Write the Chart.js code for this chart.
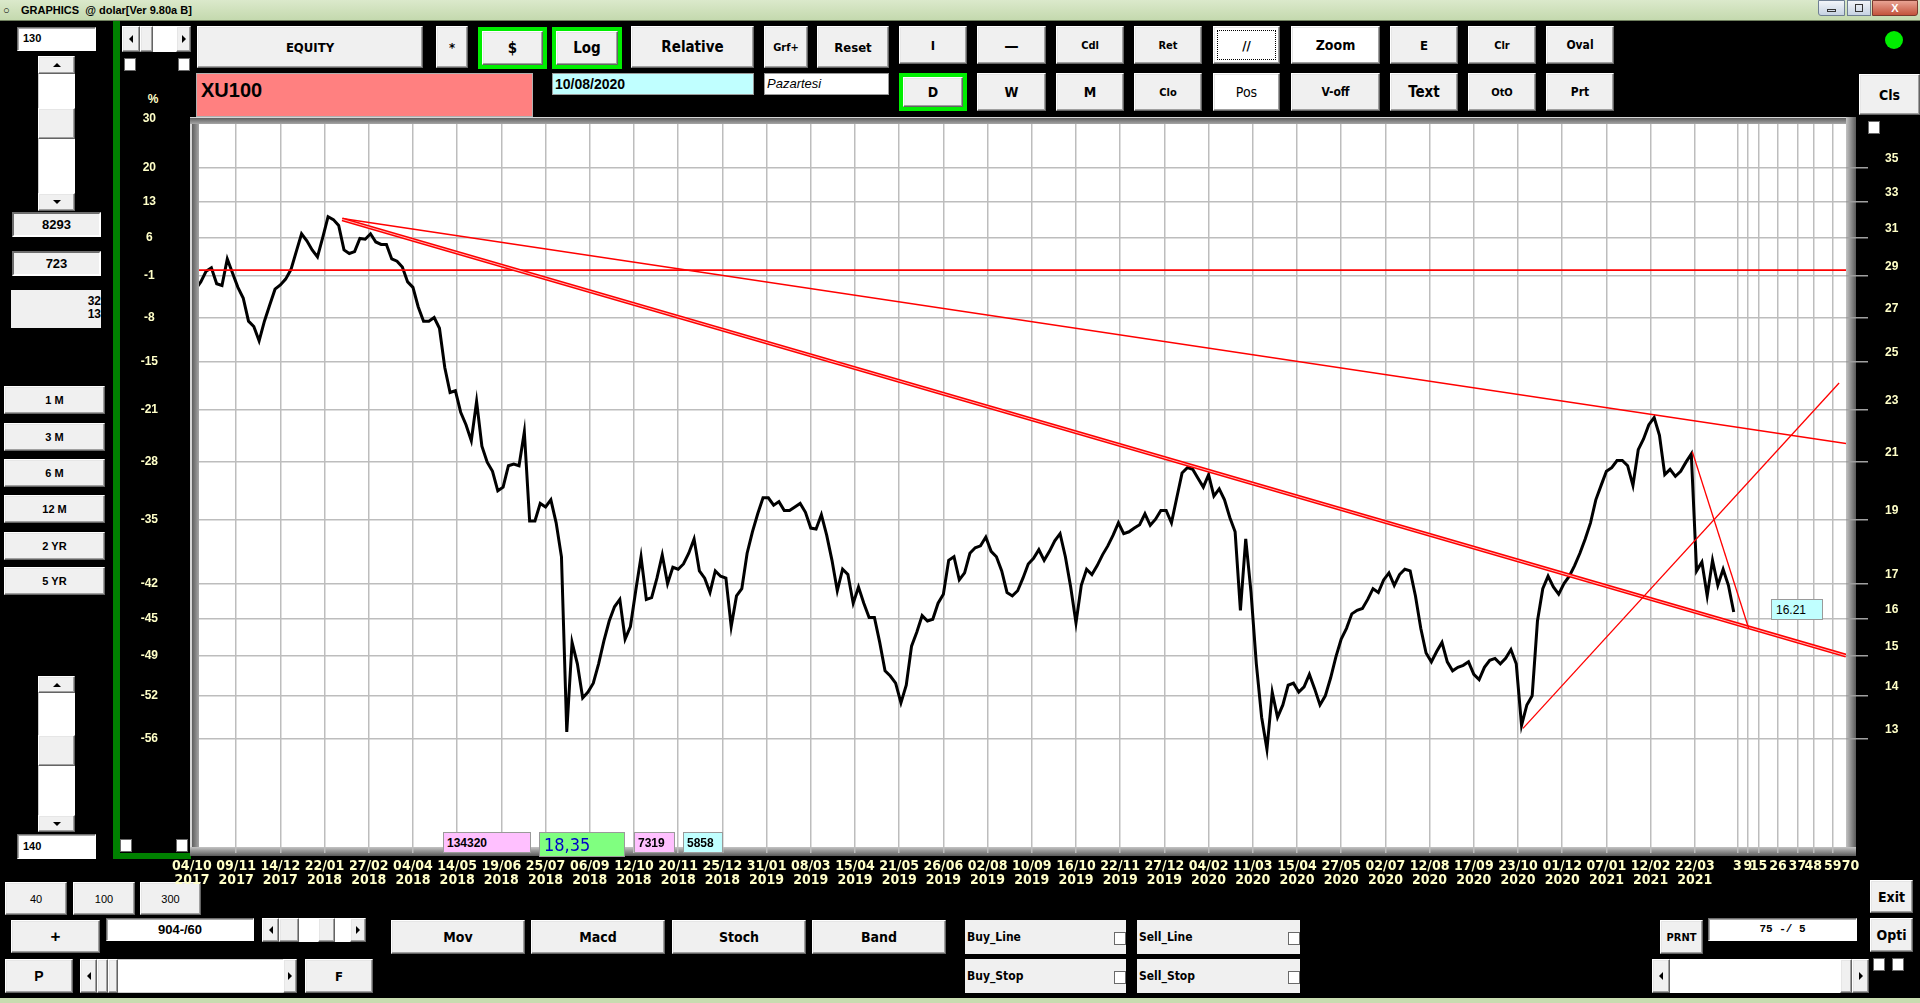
<!DOCTYPE html>
<html><head><meta charset="utf-8"><title>XU100</title>
<script src="https://cdn.jsdelivr.net/npm/chart.js@4.4.1/dist/chart.umd.min.js"></script>
<style>
html,body{margin:0;padding:0;background:#000}
body{width:1920px;height:1003px;position:relative;overflow:hidden;font-family:"Liberation Sans",Arial,sans-serif}
.a{position:absolute;box-sizing:border-box}
.b{position:absolute;box-sizing:border-box;background:#f0f0f0;border:1px solid;border-color:#fff #646464 #646464 #fff;box-shadow:inset -1px -1px 0 #a0a0a0,inset 1px 1px 0 #e6e6e6;display:flex;align-items:center;justify-content:center;font:bold 13px "Liberation Sans Narrow","DejaVu Sans Condensed",Arial,sans-serif;color:#000;white-space:nowrap}
.wb{background:#fff}
.gr{position:absolute;box-sizing:border-box;background:#00ee00;padding:4px}
.gr .b{position:relative;width:100%;height:100%}
.in{position:absolute;box-sizing:border-box;background:#fff;border:1px solid;border-color:#6d6d6d #fff #fff #6d6d6d;box-shadow:inset 1px 1px 0 #a8a8a8;font:bold 11px "Liberation Sans",Arial,sans-serif;color:#000;white-space:nowrap}
.ck{position:absolute;box-sizing:border-box;width:12px;height:13px;background:#fff;border:1px solid #6a6a6a}
.tl{width:0;height:0;border-top:4px solid transparent;border-bottom:4px solid transparent;border-right:4px solid #000}
.tr{width:0;height:0;border-top:4px solid transparent;border-bottom:4px solid transparent;border-left:4px solid #000}
.tu{width:0;height:0;border-left:4px solid transparent;border-right:4px solid transparent;border-bottom:4px solid #000}
.td{width:0;height:0;border-left:4px solid transparent;border-right:4px solid transparent;border-top:4px solid #000}
.info{position:absolute;box-sizing:border-box;border:1px solid #9a9a9a;font:bold 12px "Liberation Sans",Arial,sans-serif;color:#000;padding:3px 0 0 3px;z-index:3;white-space:nowrap}
.lbl{position:absolute;box-sizing:border-box;background:#f0f0f0;font:bold 12px "Liberation Sans Narrow","DejaVu Sans Condensed",Arial,sans-serif;padding:10px 0 0 2px}
</style></head>
<body>
<!-- title bar -->
<div class="a" style="left:0;top:0;width:1920px;height:21px;background:linear-gradient(#dbe9cb,#c4d9ae);border-bottom:1px solid #6f7f5e"></div>
<div class="a" style="left:3px;top:4px;font:11px 'Liberation Sans',Arial;color:#000">○</div>
<div class="a" style="left:21px;top:4px;font:bold 11px 'Liberation Sans',Arial;color:#000;white-space:pre">GRAPHICS  @ dolar[Ver 9.80a B]</div>
<div class="a" style="left:1818px;top:0;width:27px;height:16px;background:linear-gradient(#f2f5f9,#c6d2e2);border:1px solid #6f7f94;border-radius:0 0 0 3px"><div class="a" style="left:8px;top:8px;width:9px;height:3px;border:1px solid #333"></div></div>
<div class="a" style="left:1847px;top:0;width:24px;height:16px;background:linear-gradient(#f2f5f9,#c6d2e2);border:1px solid #6f7f94"><div class="a" style="left:7px;top:3px;width:8px;height:8px;border:1px solid #333"></div></div>
<div class="a" style="left:1872px;top:0;width:46px;height:16px;background:linear-gradient(#e9a393,#c3533c);border:1px solid #7a3a2e;border-radius:0 0 3px 0;color:#fff;font:bold 11px 'Liberation Sans',Arial;text-align:center;line-height:14px">X</div>

<!-- green L bar -->
<div class="a" style="left:113px;top:21px;width:7px;height:838px;background:#008000"></div>
<div class="a" style="left:113px;top:853px;width:78px;height:6px;background:#008000"></div>

<!-- top-left widgets -->
<div class="in" style="left:17px;top:27px;width:79px;height:24px;padding:4px 0 0 5px">130</div>
<div class="a" style="left:122px;top:26px;width:69px;height:26px;background:#fff"></div>
<div class="b" style="left:122px;top:26px;width:18px;height:26px"><div class="tl"></div></div>
<div class="b" style="left:140px;top:26px;width:13px;height:26px"></div>
<div class="b" style="left:176px;top:26px;width:15px;height:26px"><div class="tr"></div></div>
<div class="ck" style="left:124px;top:58px"></div>
<div class="ck" style="left:178px;top:58px"></div>

<!-- top buttons row -->
<div class="b" style="left:197px;top:26px;width:226px;height:42px;font-size:13px">EQUITY</div>
<div class="b" style="left:436px;top:26px;width:32px;height:42px">*</div>
<div class="gr" style="left:478px;top:27px;width:69px;height:42px"><div class="b" style="font-size:15px">$</div></div>
<div class="gr" style="left:552px;top:27px;width:70px;height:42px"><div class="b" style="font-size:15px">Log</div></div>
<div class="b" style="left:631px;top:26px;width:123px;height:42px;font-size:15px">Relative</div>
<div class="b" style="left:764px;top:26px;width:44px;height:42px;font-size:11px">Grf+</div>
<div class="b" style="left:817px;top:26px;width:72px;height:42px;font-size:13px">Reset</div>
<div class="b" style="left:899px;top:26px;width:68px;height:38px">I</div>
<div class="b" style="left:977px;top:26px;width:69px;height:38px;font-size:16px">—</div>
<div class="b" style="left:1056px;top:26px;width:68px;height:38px;font-size:11px">Cdl</div>
<div class="b" style="left:1134px;top:26px;width:68px;height:38px;font-size:11px">Ret</div>
<div class="b wb" style="left:1213px;top:26px;width:67px;height:38px;outline:1px dotted #000;outline-offset:-5px;font-size:13px">//</div>
<div class="b wb" style="left:1291px;top:26px;width:89px;height:38px;font-size:14px">Zoom</div>
<div class="b" style="left:1390px;top:26px;width:68px;height:38px">E</div>
<div class="b" style="left:1468px;top:26px;width:68px;height:38px;font-size:11px">Clr</div>
<div class="b" style="left:1546px;top:26px;width:68px;height:38px;font-size:12px">Oval</div>
<div class="a" style="left:1885px;top:31px;width:18px;height:18px;border-radius:50%;background:#00ee00"></div>

<!-- second row -->
<div class="a" style="left:196px;top:73px;width:337px;height:44px;background:#ff8080;border:1px solid #b0b0b0;font:bold 20px 'Liberation Sans',Arial;padding:5px 0 0 4px;color:#000">XU100</div>
<div class="a" style="left:552px;top:73px;width:202px;height:22px;background:#c0ffff;border:1px solid #9a9a9a;font:bold 14px 'Liberation Sans',Arial;padding:2px 0 0 2px">10/08/2020</div>
<div class="a" style="left:764px;top:73px;width:125px;height:22px;background:#fff;border:1px solid #9a9a9a;font:italic 13px 'Liberation Sans',Arial;padding:2px 0 0 2px">Pazartesi</div>
<div class="gr" style="left:899px;top:73px;width:68px;height:38px"><div class="b" style="font-size:14px">D</div></div>
<div class="b" style="left:977px;top:73px;width:69px;height:38px;font-size:14px">W</div>
<div class="b" style="left:1056px;top:73px;width:68px;height:38px;font-size:14px">M</div>
<div class="b" style="left:1134px;top:73px;width:68px;height:38px;font-size:11px">Clo</div>
<div class="b wb" style="left:1213px;top:73px;width:67px;height:38px;font-size:14px;font-weight:normal">Pos</div>
<div class="b" style="left:1291px;top:73px;width:89px;height:38px;font-size:12px">V-off</div>
<div class="b" style="left:1390px;top:73px;width:68px;height:38px;font-size:15px">Text</div>
<div class="b" style="left:1468px;top:73px;width:68px;height:38px;font-size:11px">OtO</div>
<div class="b" style="left:1546px;top:73px;width:68px;height:38px;font-size:12px">Prt</div>
<div class="b" style="left:1859px;top:74px;width:61px;height:41px;font-size:14px">Cls</div>
<div class="a" style="left:146px;top:92px;width:14px;color:#ffffc8;font:bold 12px 'Liberation Sans',Arial;text-align:center">%</div>

<!-- left panel -->
<div class="a" style="left:38px;top:56px;width:37px;height:155px;background:#fff;border-left:1px solid #ccc"></div>
<div class="b" style="left:38px;top:56px;width:37px;height:18px"><div class="tu"></div></div>
<div class="b" style="left:38px;top:108px;width:37px;height:31px"></div>
<div class="b" style="left:38px;top:193px;width:37px;height:18px"><div class="td"></div></div>
<div class="a" style="left:12px;top:212px;width:89px;height:25px;background:#f0f0f0;border:2px solid;border-color:#6d6d6d #fff #fff #6d6d6d;font:bold 13px 'Liberation Sans',Arial;text-align:center;padding-top:3px">8293</div>
<div class="a" style="left:12px;top:251px;width:89px;height:25px;background:#f0f0f0;border:2px solid;border-color:#6d6d6d #fff #fff #6d6d6d;font:bold 13px 'Liberation Sans',Arial;text-align:center;padding-top:3px">723</div>
<div class="a" style="left:11px;top:290px;width:90px;height:38px;background:#f0f0f0;font:bold 12px 'Liberation Sans',Arial;text-align:right;line-height:13px;padding-top:5px">32<br>13</div>
<div class="b" style="left:4px;top:386px;width:101px;height:28px;font:bold 11px 'Liberation Sans',Arial">1 M</div>
<div class="b" style="left:4px;top:423px;width:101px;height:28px;font:bold 11px 'Liberation Sans',Arial">3 M</div>
<div class="b" style="left:4px;top:459px;width:101px;height:28px;font:bold 11px 'Liberation Sans',Arial">6 M</div>
<div class="b" style="left:4px;top:495px;width:101px;height:28px;font:bold 11px 'Liberation Sans',Arial">12 M</div>
<div class="b" style="left:4px;top:532px;width:101px;height:28px;font:bold 11px 'Liberation Sans',Arial">2 YR</div>
<div class="b" style="left:4px;top:567px;width:101px;height:28px;font:bold 11px 'Liberation Sans',Arial">5 YR</div>
<div class="a" style="left:38px;top:676px;width:37px;height:156px;background:#fff;border-left:1px solid #ccc"></div>
<div class="b" style="left:38px;top:676px;width:37px;height:17px"><div class="tu"></div></div>
<div class="b" style="left:38px;top:735px;width:37px;height:31px"></div>
<div class="b" style="left:38px;top:815px;width:37px;height:17px"><div class="td"></div></div>
<div class="in" style="left:17px;top:834px;width:79px;height:25px;padding:5px 0 0 5px">140</div>
<div class="ck" style="left:120px;top:839px"></div>
<div class="ck" style="left:176px;top:839px"></div>
<div class="ck" style="left:1868px;top:121px"></div>

<!-- plot frame -->
<div class="a" style="left:190px;top:117px;width:1666px;height:739px;background:#8a8a8a;z-index:1"></div>
<div class="a" style="left:190px;top:117px;width:9px;height:739px;background:linear-gradient(90deg,#d6d6d6 0,#d6d6d6 2px,#5e5e5e 2px,#a6a6a6 9px);z-index:1"></div>
<div class="a" style="left:190px;top:117px;width:1666px;height:7px;background:linear-gradient(180deg,#d6d6d6 0,#d6d6d6 1px,#606060 1px,#a6a6a6 7px);z-index:1"></div>
<div class="a" style="left:1846px;top:117px;width:10px;height:739px;background:linear-gradient(90deg,#c4c4c4,#5a5a5a);z-index:1"></div>
<div class="a" style="left:190px;top:847px;width:1666px;height:9px;background:linear-gradient(180deg,#c4c4c4,#5a5a5a);z-index:1"></div>
<div class="a" style="left:199px;top:124px;width:1647px;height:723px;background:#fff;z-index:1"></div>

<canvas id="c" width="1800" height="805" style="position:absolute;left:120px;top:95px;width:1800px;height:805px;z-index:2"></canvas>

<!-- info boxes on chart -->
<div class="info" style="left:443px;top:832px;width:88px;height:21px;background:#ffc0ff">134320</div>
<div class="info" style="left:539px;top:832px;width:86px;height:25px;background:#80ff80;color:#0000c8;font:18px 'Liberation Sans Narrow','DejaVu Sans Condensed',Arial;padding:1px 0 0 4px">18,35</div>
<div class="info" style="left:634px;top:832px;width:41px;height:21px;background:#ffc0ff">7319</div>
<div class="info" style="left:683px;top:832px;width:40px;height:21px;background:#c0ffff">5858</div>
<div class="info" style="left:1771px;top:599px;width:52px;height:21px;background:#c0ffff;font:12px 'Liberation Sans',Arial;padding:3px 0 0 4px">16.21</div>

<!-- bottom panel -->
<div class="b" style="left:5px;top:882px;width:62px;height:33px;font:11px 'Liberation Sans',Arial">40</div>
<div class="b" style="left:73px;top:882px;width:62px;height:33px;font:11px 'Liberation Sans',Arial">100</div>
<div class="b" style="left:140px;top:882px;width:61px;height:33px;font:11px 'Liberation Sans',Arial">300</div>
<div class="b" style="left:11px;top:920px;width:89px;height:33px;font:bold 17px 'Liberation Sans',Arial">+</div>
<div class="in" style="left:106px;top:918px;width:148px;height:23px;font:bold 13px 'Liberation Sans',Arial;text-align:center;padding-top:3px">904-/60</div>
<div class="a" style="left:262px;top:918px;width:104px;height:24px;background:#fff"></div>
<div class="b" style="left:262px;top:918px;width:17px;height:24px"><div class="tl"></div></div>
<div class="b" style="left:279px;top:918px;width:20px;height:24px"></div>
<div class="b" style="left:318px;top:918px;width:17px;height:24px"></div>
<div class="b" style="left:350px;top:918px;width:16px;height:24px"><div class="tr"></div></div>
<div class="b" style="left:5px;top:959px;width:68px;height:34px;font:bold 14px 'Liberation Sans',Arial">P</div>
<div class="a" style="left:80px;top:959px;width:217px;height:34px;background:#fff;border:1px solid #ccc"></div>
<div class="b" style="left:80px;top:959px;width:17px;height:34px"><div class="tl"></div></div>
<div class="b" style="left:97px;top:959px;width:11px;height:34px"></div>
<div class="b" style="left:108px;top:959px;width:10px;height:34px"></div>
<div class="b" style="left:283px;top:959px;width:14px;height:34px"><div class="tr"></div></div>
<div class="b" style="left:305px;top:959px;width:68px;height:34px;font-size:13px">F</div>
<div class="b" style="left:391px;top:920px;width:134px;height:34px;font-size:14px">Mov</div>
<div class="b" style="left:531px;top:920px;width:134px;height:34px;font-size:14px">Macd</div>
<div class="b" style="left:672px;top:920px;width:134px;height:34px;font-size:14px">Stoch</div>
<div class="b" style="left:812px;top:920px;width:134px;height:34px;font-size:14px">Band</div>
<div class="lbl" style="left:965px;top:920px;width:161px;height:34px">Buy_Line</div>
<div class="ck" style="left:1114px;top:932px"></div>
<div class="lbl" style="left:1137px;top:920px;width:163px;height:34px">Sell_Line</div>
<div class="ck" style="left:1288px;top:932px"></div>
<div class="lbl" style="left:965px;top:959px;width:161px;height:34px">Buy_Stop</div>
<div class="ck" style="left:1114px;top:971px"></div>
<div class="lbl" style="left:1137px;top:959px;width:163px;height:34px">Sell_Stop</div>
<div class="ck" style="left:1288px;top:971px"></div>
<div class="b" style="left:1660px;top:920px;width:43px;height:34px;font-size:11px">PRNT</div>
<div class="in" style="left:1708px;top:918px;width:149px;height:23px;font:bold 11px 'Liberation Mono','DejaVu Sans Mono',monospace;text-align:center;padding-top:4px;white-space:pre">75 -/ 5</div>
<div class="b" style="left:1870px;top:880px;width:43px;height:33px;font-size:14px">Exit</div>
<div class="b" style="left:1870px;top:918px;width:43px;height:34px;font-size:14px">Opti</div>
<div class="a" style="left:1652px;top:959px;width:217px;height:34px;background:#fff"></div>
<div class="b" style="left:1652px;top:959px;width:18px;height:34px"><div class="tl"></div></div>
<div class="b" style="left:1840px;top:959px;width:12px;height:34px"></div>
<div class="b" style="left:1852px;top:959px;width:17px;height:34px"><div class="tr"></div></div>
<div class="ck" style="left:1873px;top:958px"></div>
<div class="ck" style="left:1892px;top:958px"></div>
<div class="a" style="left:0;top:998px;width:1920px;height:5px;background:#c8dcb0"></div>

<script>
// ---- axis labels ----
const dateLabels = ['04/10','09/11','14/12','22/01','27/02','04/04','14/05','19/06','25/07','06/09','12/10','20/11','25/12','31/01','08/03','15/04','21/05','26/06','02/08','10/09','16/10','22/11','27/12','04/02','11/03','15/04','27/05','02/07','12/08','17/09','23/10','01/12','07/01','12/02','22/03'];
const yearLabels = ['2017','2017','2017','2018','2018','2018','2018','2018','2018','2018','2018','2018','2018','2019','2019','2019','2019','2019','2019','2019','2019','2019','2019','2020','2020','2020','2020','2020','2020','2020','2020','2020','2021','2021','2021'];
const daysPerDateLabel = 25;
const futureLabels = ['3','9','15','26','37','48','59','70'];
const futureTickDays = [874, 880, 886, 897, 908, 917, 928, 938];
const priceTicks = [35, 33, 31, 29, 27, 25, 23, 21, 19, 17, 16, 15, 14, 13];
const pctTickPrices = [38.1, 35, 33, 31, 29, 27, 25, 23, 21, 19, 17, 16, 15, 14, 13];
const pctTickLabels = ['30','20','13','6','-1','-8','-15','-21','-28','-35','-42','-45','-49','-52','-56'];

// ---- XU100 in USD, sampled every 3 trading days from day 2 ----
const firstDay = 2;
const dayStep = 3;
const prices = [
28.35,28.71,29.24,29.42,28.62,28.53,29.88,29.15,28.44,27.92,
26.82,26.57,25.92,26.82,27.58,28.35,28.56,28.85,29.33,30.26,
31.21,30.83,30.35,29.98,31.02,32.15,31.99,31.66,30.35,30.16,
30.26,30.96,30.92,31.21,30.77,30.64,30.64,29.88,29.76,29.46,
28.71,28.44,27.49,26.82,26.82,26.99,26.49,24.75,23.70,23.77,
22.90,22.41,21.80,23.33,21.59,21.00,20.67,19.98,20.11,20.87,
20.93,20.87,22.13,18.96,18.96,19.55,19.43,19.67,18.90,17.82,
13.15,15.36,14.80,13.95,14.09,14.31,14.80,15.40,15.94,16.34,
16.55,15.45,15.79,16.80,17.82,16.55,16.60,17.17,17.88,17.01,
17.50,17.44,17.60,17.93,18.38,17.39,17.17,16.75,17.39,17.23,
17.17,15.79,16.65,16.86,17.93,18.61,19.20,19.74,19.74,19.49,
19.61,19.31,19.31,19.43,19.55,19.25,18.73,18.70,19.17,18.50,
17.71,16.80,17.44,17.28,16.44,16.91,16.44,16.04,16.04,15.36,
14.62,14.49,14.31,13.83,14.26,15.26,15.64,16.09,15.94,15.99,
16.44,16.70,17.71,17.82,17.12,17.33,17.93,
18.10,18.16,18.44,17.99,17.82,17.39,16.75,16.65,16.80,17.17,
17.60,17.77,18.04,17.71,17.99,18.32,18.55,17.82,16.91,15.89,
16.96,17.44,17.28,17.55,17.88,18.16,18.50,18.90,18.55,18.61,
18.73,18.84,19.20,18.82,19.02,19.31,19.31,18.90,19.74,20.61,
20.80,20.74,20.42,20.11,20.55,19.80,20.05,19.67,19.08,18.61,
16.24,18.38,16.75,14.80,13.49,12.76,14.09,13.49,13.78,14.26,
14.31,14.09,14.22,14.53,14.17,13.78,14.00,14.44,14.98,15.45,
15.74,16.14,16.24,16.29,16.55,16.86,16.75,17.12,17.33,16.96,
17.28,17.44,17.39,16.65,15.74,15.08,14.85,15.12,15.36,14.85,
14.62,14.71,14.76,14.85,14.53,14.40,14.71,14.89,14.94,14.80,
14.94,15.17,14.80,13.30,13.78,14.00,15.94,16.86,17.23,16.91,
16.70,17.01,17.23,17.55,17.93,18.38,18.90,19.67,20.17,20.67,
20.80,21.06,21.06,20.87,20.17,21.46,21.86,22.41,22.69,22.00,
20.55,20.74,20.49,20.67,21.00,21.30,17.39,17.66,16.65,17.71,
16.96,17.44,16.96,16.19
];

// ---- drawn lines (day, price) ----
const refLevel = 29.3;
const upperTrendDays = [85, 935.5];
const upperTrendPrices = [32.05, 21.69];
const lowerTrendDays = [85, 935.5];
const lowerTrendPrices = [32.0, 15.01];
const riseTrendDays = [752.8, 931.6];
const riseTrendPrices = [13.23, 24.09];
const fallTrendDays = [848.6, 880.4];
const fallTrendPrices = [21.38, 15.75];

const X_MIN = 4, X_MAX = 935.5, Y_MIN = 10.77, Y_MAX = 37.76;
const pts = (xs, ys) => xs.map((x, i) => ({x: x, y: ys[i]}));
const mainData = prices.map((p, i) => ({x: firstDay + i * dayStep, y: p}));
const xTickValues = dateLabels.map((d, i) => i * daysPerDateLabel).concat(futureTickDays);

const narrow = '"Liberation Sans Narrow","DejaVu Sans Condensed",Arial,sans-serif';
const gridCol = '#bdbdbd';
const txtCol = '#ffffc8';
const line = (data, color, w) => ({data: data, borderColor: color, borderWidth: w, pointRadius: 0, fill: false, tension: 0, yAxisID: 'y'});

new Chart(document.getElementById('c'), {
  type: 'line',
  data: {datasets: [
    line(pts(fallTrendDays, fallTrendPrices), '#ff0000', 1.3),
    line(pts(riseTrendDays, riseTrendPrices), '#ff0000', 1.3),
    line(pts(lowerTrendDays, lowerTrendPrices), '#ffb4b4', 1),
    line(pts(lowerTrendDays, lowerTrendPrices), '#ff0000', 4),
    line(pts(upperTrendDays, upperTrendPrices), '#ff0000', 1.4),
    line(pts([X_MIN, X_MAX], [refLevel, refLevel]), '#ff0000', 1.8),
    line(mainData, '#000000', 3)
  ]},
  options: {
    responsive: false, animation: false, devicePixelRatio: 1,
    layout: {padding: {top: 29, left: 0, right: 0, bottom: 0}},
    plugins: {legend: {display: false}, tooltip: {enabled: false}},
    scales: {
      x: {
        type: 'linear', min: X_MIN, max: X_MAX,
        afterBuildTicks: s => { s.ticks = xTickValues.map(v => ({value: v})); },
        afterFit: s => { s.height = 53; },
        border: {display: false},
        grid: {
          color: c => (c.tick && (c.tick.value < X_MIN || c.tick.value > X_MAX)) ? 'rgba(0,0,0,0)' : gridCol,
          lineWidth: 1.5, tickLength: 6
        },
        ticks: {
          autoSkip: false, maxRotation: 0, minRotation: 0, padding: 6, color: txtCol,
          font: {family: narrow, size: 14, weight: 'bold', lineHeight: 1},
          callback: (v, i) => i < dateLabels.length ? [dateLabels[i], yearLabels[i]] : futureLabels[i - dateLabels.length]
        }
      },
      y: {
        type: 'logarithmic', position: 'right', min: Y_MIN, max: Y_MAX,
        afterBuildTicks: s => { s.ticks = priceTicks.map(v => ({value: v})); },
        afterFit: s => { s.width = 74; },
        border: {display: false},
        grid: {color: gridCol, lineWidth: 1.5, tickLength: 22, tickColor: '#a0a0a0'},
        ticks: {
          autoSkip: false, padding: 17, labelOffset: -9, color: txtCol,
          font: {family: '"Liberation Sans",Arial,sans-serif', size: 12, weight: 'bold'},
          callback: v => String(v)
        }
      },
      yL: {
        type: 'logarithmic', position: 'left', min: Y_MIN, max: Y_MAX,
        afterBuildTicks: s => { s.ticks = pctTickPrices.map(v => ({value: v})); },
        afterFit: s => { s.width = 79; },
        border: {display: false},
        grid: {display: false, drawTicks: true, tickLength: 41},
        ticks: {
          autoSkip: false, padding: 0, crossAlign: 'center', color: txtCol,
          font: {family: '"Liberation Sans",Arial,sans-serif', size: 12, weight: 'bold'},
          callback: (v, i) => pctTickLabels[i]
        }
      }
    }
  }
});
</script>
</body></html>
